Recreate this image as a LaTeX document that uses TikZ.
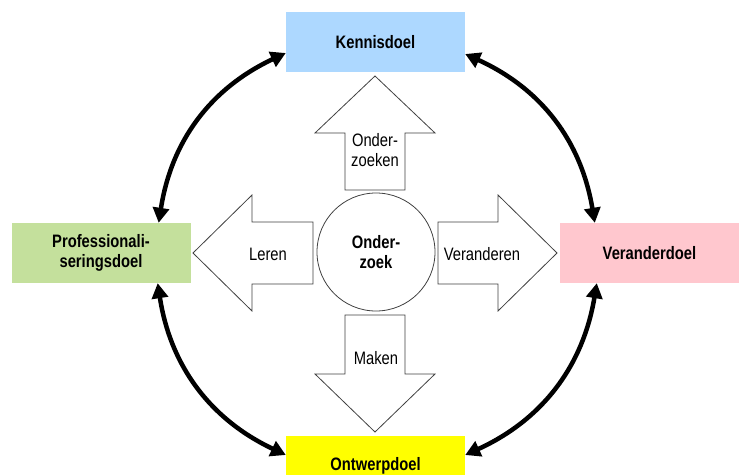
\documentclass[tikz,border=0pt]{standalone}
\usepackage{fontspec}
\setmainfont{Liberation Sans}[FakeStretch=0.82]
\usetikzlibrary{arrows.meta}
\definecolor{kennisblauw}{RGB}{173,216,255}
\definecolor{profgroen}{RGB}{196,224,156}
\definecolor{veranderroze}{RGB}{255,199,206}
\definecolor{ontwerpgeel}{RGB}{255,255,0}
\tikzset{
 doel/.style={minimum width=179pt,minimum height=60pt,inner sep=0pt,align=center,font=\fontsize{18}{20}\selectfont\bfseries},
 blokpijl/.style={draw=black!75,line width=0.8pt,fill=white,line join=miter},
 pijltekst/.style={align=center,inner sep=0pt,font=\fontsize{18}{20}\selectfont},
 wissel/.style={line width=4.5pt,{Triangle[length=15pt,width=16pt]}-{Triangle[length=15pt,width=16pt]}}
}
\begin{document}
\begin{tikzpicture}[x=1pt,y=-1pt]
 \useasboundingbox (0,0) rectangle (739,474);
 \clip (0,0) rectangle (739,474);
 % doelen
 \node[doel,fill=kennisblauw] (kennis) at (375.5,42) {Kennisdoel};
 \node[doel,fill=profgroen] (prof) at (101,253) {Professionali-\\seringsdoel};
 \node[doel,fill=veranderroze] (verander) at (649.5,253) {Veranderdoel};
 \node[doel,fill=ontwerpgeel] (ontwerp) at (375.5,466) {Ontwerpdoel};
 % blokpijlen
 \draw[blokpijl](345,190)--(345,133)--(315,133)--(375,76)--(435,133)--(405,133)--(405,190)--cycle;
 \draw[blokpijl](345,315)--(345,374)--(315,374)--(375,432)--(435,374)--(405,374)--(405,315)--cycle;
 \draw[blokpijl](313,222)--(252,222)--(252,195)--(193,253)--(252,311)--(252,284)--(313,284)--cycle;
 \draw[blokpijl](438,222)--(498,222)--(498,195)--(557,253)--(498,311)--(498,284)--(438,284)--cycle;
 \node[pijltekst] (onderzoeken) at (375,150) {Onder-\\zoeken};
 \node[pijltekst] (maken) at (376,358) {Maken};
 \node[pijltekst] (leren) at (268,254) {Leren};
 \node[pijltekst] (veranderen) at (482,254) {Veranderen};
 % midden
 \node[circle,draw=black!75,line width=0.8pt,minimum size=118pt,inner sep=0pt,align=center,
  font=\fontsize{18}{20}\selectfont\bfseries] (onderzoek) at (376,252) {Onder-\\zoek};
 % wisselwerking
 \draw[wissel] ([xshift=-32pt]prof.north east) to[bend left=28] ([yshift=-11pt]kennis.west);
 \draw[wissel] ([yshift=-12pt]kennis.east) to[bend left=28] ([xshift=35pt]verander.north west);
 \draw[wissel] ([xshift=37pt]verander.south west) to[bend left=28] ([yshift=11pt]ontwerp.east);
 \draw[wissel] ([yshift=11pt]ontwerp.west) to[bend left=28] ([xshift=-33pt]prof.south east);
\end{tikzpicture}
\end{document}
